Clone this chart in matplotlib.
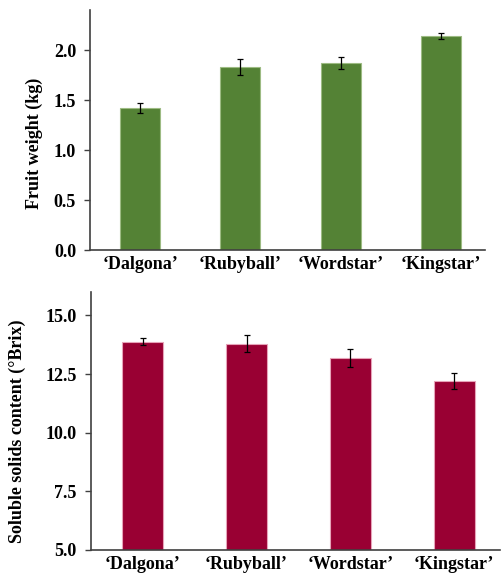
import matplotlib
matplotlib.use("Agg")
import matplotlib.pyplot as plt

cultivars = ["\u2018Dalgona\u2019", "\u2018Rubyball\u2019", "\u2018Wordstar\u2019", "\u2018Kingstar\u2019"]
weight = [1.42, 1.83, 1.87, 2.14]
weight_err = [0.05, 0.08, 0.06, 0.03]
brix = [13.88, 13.80, 13.19, 12.20]
brix_err = [0.16, 0.37, 0.38, 0.35]

plt.rcParams["font.family"] = "Liberation Serif"
plt.rcParams["font.weight"] = "bold"
plt.rcParams["axes.labelweight"] = "bold"
plt.rcParams["font.size"] = 13


def configure_axis(ax):
    ax.spines["top"].set_visible(False)
    ax.spines["right"].set_visible(False)
    for s in ("left", "bottom"):
        ax.spines[s].set_color("#404040")
        ax.spines[s].set_linewidth(1.2)
    ax.tick_params(axis="x", length=0, pad=4)
    ax.tick_params(axis="y", direction="out", length=4, width=1, color="#404040", pad=6)
    ax.set_xlim(-0.5, 3.44)


fig = plt.figure(figsize=(5.01, 5.79), dpi=100)

ax1 = fig.add_axes([90 / 501, 1 - 250 / 579, 395 / 501, 240 / 579])
configure_axis(ax1)
x = range(len(cultivars))
ax1.bar(x, weight, width=0.4, color="#548235", edgecolor="#9dbb83", linewidth=0.8,
        yerr=weight_err, error_kw=dict(ecolor="black", elinewidth=0.9, capsize=2, capthick=0.9))
ax1.set_ylim(0, 2.4)
ax1.set_yticks([0, 0.5, 1.0, 1.5, 2.0])
ax1.set_yticklabels([f"{v:.1f}" for v in [0, 0.5, 1.0, 1.5, 2.0]])
ax1.set_xticks(list(x))
ax1.set_xticklabels(cultivars)
ax1.set_ylabel("Fruit weight (kg)")
ax1.yaxis.set_label_coords(-0.119, 0.445)

ax2 = fig.add_axes([90.7 / 501, 1 - 550 / 579, 409.3 / 501, 258 / 579])
configure_axis(ax2)
ax2.bar(x, [b - 5 for b in brix], bottom=5, width=0.4, color="#990033", edgecolor="#e6a3b8",
        linewidth=0.8, yerr=brix_err,
        error_kw=dict(ecolor="black", elinewidth=0.9, capsize=2, capthick=0.9))
ax2.set_ylim(5, 16)
ax2.set_yticks([5, 7.5, 10, 12.5, 15])
ax2.set_yticklabels([f"{v:.1f}" for v in [5, 7.5, 10, 12.5, 15]])
ax2.set_xticks(list(x))
ax2.set_xticklabels(cultivars)
ax2.set_ylabel("Soluble solids content (\u00b0Brix)")
ax2.yaxis.set_label_coords(-0.158, 0.46)

plt.savefig("out.png", dpi=100)
